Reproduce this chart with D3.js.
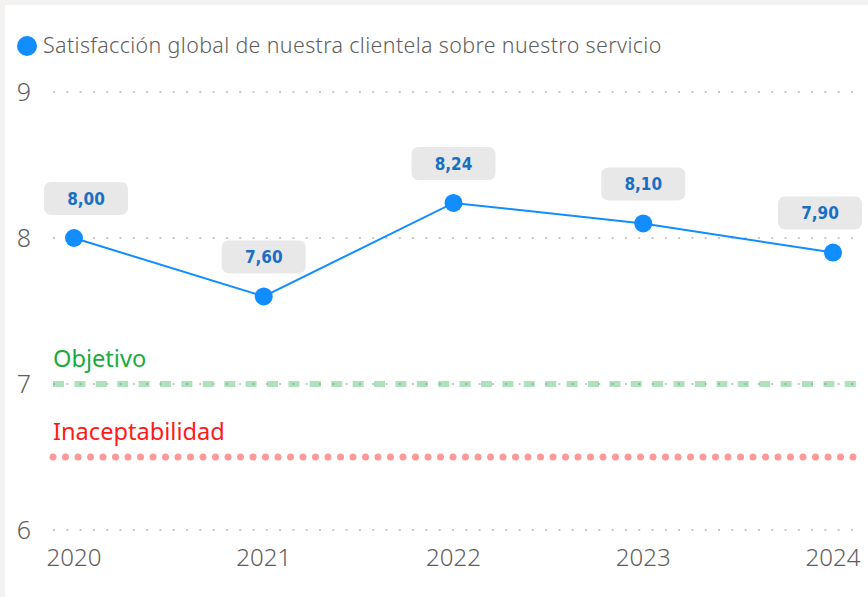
<!DOCTYPE html>
<html>
<head>
<meta charset="utf-8">
<script src="https://cdn.jsdelivr.net/npm/d3@7"></script>
<style>
  html, body { margin: 0; padding: 0; background: #f3f2f1; }
  svg { display: block; }
</style>
</head>
<body>
<svg id="vis" width="868" height="597"></svg>
<script>
// chart data
const years = ["2020", "2021", "2022", "2023", "2024"];
const satisfaction = [8.00, 7.60, 8.24, 8.10, 7.90];
const yTicks = [6, 7, 8, 9];
const legendLabel = "Satisfacción global de nuestra clientela sobre nuestro servicio";
const refLines = [
    { name: "Objetivo", value: 7, color: "#1aab40", kind: "dash" },
    { name: "Inaceptabilidad", value: 6.5, color: "#ff1a1a", kind: "dot" }
];

const svg = d3.select("#vis");
const W = +svg.attr("width"), H = +svg.attr("height");
const font = "'Noto Sans', 'Open Sans', sans-serif";

// white card
svg.append("rect").attr("x", 5).attr("y", 5).attr("width", W - 5).attr("height", H - 5).attr("fill", "#fff");

let x = d3.scalePoint().domain(years).range([74, 833]);
let y = d3.scaleLinear().domain([6, 9]).range([530, 92]);

// grid lines (dotted)
svg.append("g").selectAll("line")
    .data(yTicks)
    .enter().append("line")
        .attr("x1", 53).attr("x2", 862)
        .attr("y1", d => y(d)).attr("y2", d => y(d))
        .attr("stroke", "#c8c8c8")
        .attr("stroke-width", 2)
        .attr("stroke-dasharray", "2,11.3");

// y axis labels
svg.append("g").selectAll("text")
    .data(yTicks)
    .enter().append("text")
        .attr("x", 31)
        .attr("y", d => y(d))
        .attr("dy", "0.36em")
        .attr("text-anchor", "end")
        .attr("fill", "#605e5c")
        .style("font", `300 25px ${font}`)
        .text(d => d);

// x axis labels
svg.append("g").selectAll("text")
    .data(years)
    .enter().append("text")
        .attr("x", d => x(d))
        .attr("y", 566)
        .attr("text-anchor", "middle")
        .attr("fill", "#605e5c")
        .style("font", `300 24px ${font}`)
        .text(d => d);

// reference lines
refLines.forEach(r => {
    let ln = svg.append("line")
        .attr("x1", 53).attr("x2", 860)
        .attr("y1", y(r.value)).attr("y2", y(r.value))
        .attr("stroke", r.color)
        .attr("stroke-opacity", 0.35)
        .attr("stroke-width", 6);
    if (r.kind == "dash") {
        ln.attr("stroke-dasharray", "11,10.4");
    } else {
        ln.attr("stroke-dasharray", "0,12.5").attr("stroke-linecap", "round")
          .attr("stroke-width", 7).attr("stroke-opacity", 0.45);
    }
    svg.append("text")
        .attr("x", 53)
        .attr("y", y(r.value) - 17)
        .attr("fill", r.color)
        .style("font", `23.6px ${font}`)
        .text(r.name);
});

// series line
let line = d3.line()
    .x((d, i) => x(years[i]))
    .y(d => y(d));

svg.append("path")
    .datum(satisfaction)
    .attr("fill", "none")
    .attr("stroke", "#118dff")
    .attr("stroke-width", 2)
    .attr("d", line);

svg.append("g").selectAll("circle")
    .data(satisfaction)
    .enter().append("circle")
        .attr("cx", (d, i) => x(years[i]))
        .attr("cy", d => y(d))
        .attr("r", 9)
        .attr("fill", "#118dff");

// data labels, kept inside the plot
let boxW = 84, boxH = 33;
let labels = svg.append("g").selectAll("g")
    .data(satisfaction)
    .enter().append("g")
        .attr("transform", (d, i) => {
            let cx = Math.max(44 + boxW / 2, Math.min(862 - boxW / 2, x(years[i])));
            return `translate(${cx}, ${y(d) - 23 - boxH / 2})`;
        });

labels.append("rect")
    .attr("x", -boxW / 2).attr("y", -boxH / 2)
    .attr("width", boxW).attr("height", boxH)
    .attr("rx", 7)
    .attr("fill", "#e8e8e8");

labels.append("text")
    .attr("text-anchor", "middle")
    .attr("dy", "0.36em")
    .attr("fill", "#1a6fc4")
    .style("font", "bold 17px 'DejaVu Sans Condensed', Roboto, sans-serif")
    .text(d => d3.format(".2f")(d).replace(".", ","));

// legend
svg.append("circle").attr("cx", 27).attr("cy", 46).attr("r", 10).attr("fill", "#118dff");
svg.append("text")
    .attr("x", 43).attr("y", 46)
    .attr("dy", "0.35em")
    .attr("fill", "#605e5c")
    .attr("letter-spacing", 0.37)
    .style("font", `300 21.4px ${font}`)
    .text(legendLabel);
</script>
</body>
</html>
